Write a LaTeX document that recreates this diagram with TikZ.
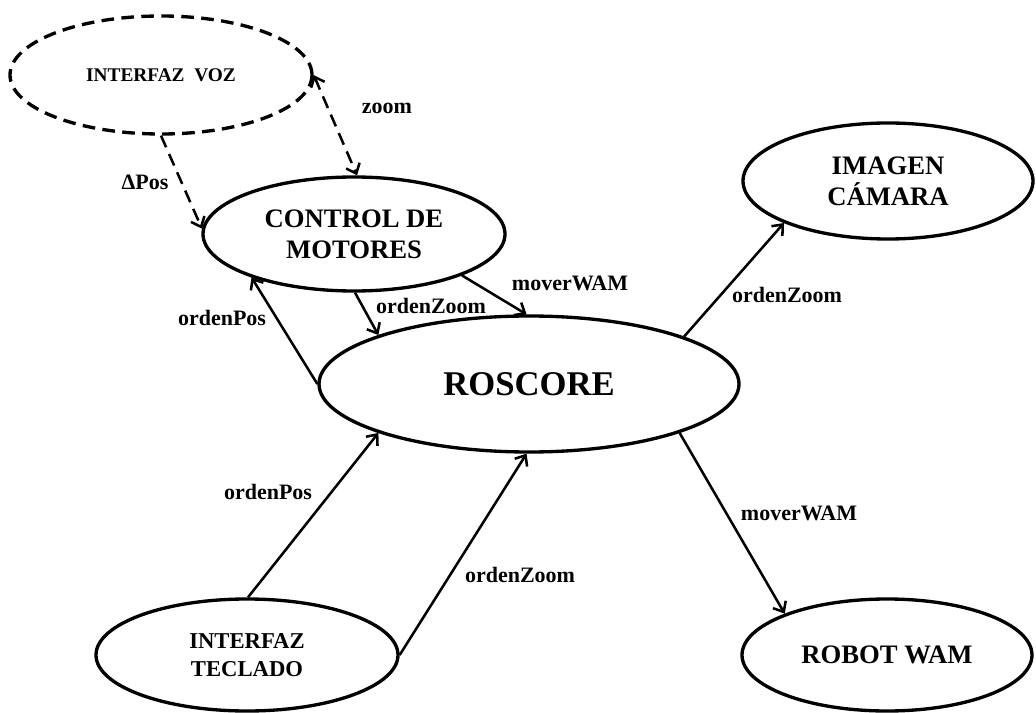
\documentclass[tikz,border=0pt]{standalone}
\usepackage{fontspec}
\setmainfont{Liberation Serif}
\usetikzlibrary{shapes.geometric,arrows.meta}

\begin{document}
\begin{tikzpicture}[x=.75pt,y=-.75pt,line width=1.9pt,font=\bfseries,
  >={Straight Barb[length=6.5pt,width=11pt]},
  elip/.style={draw,ellipse,line width=2.5pt,inner sep=0pt,align=center},
  disc/.style={dash pattern=on 9.5pt off 5.5pt},
  etq/.style={inner sep=0pt,font=\bfseries\fontsize{16.5}{18}\selectfont}]
\useasboundingbox (0,0) rectangle (1036,713);
\node[elip,disc,minimum width=226.5pt,minimum height=88.5pt,font=\bfseries\fontsize{14.5}{17}\selectfont] (voz) at (161,75) {INTERFAZ\ \ VOZ};
\node[elip,minimum width=226.5pt,minimum height=85.5pt,font=\bfseries\fontsize{20}{23.3}\selectfont] (ctl) at (354,234) {CONTROL DE\\MOTORES};
\node[elip,minimum width=315pt,minimum height=102pt,font=\bfseries\fontsize{26}{30}\selectfont] (ros) at (529,384) {ROSCORE};
\node[elip,minimum width=217.5pt,minimum height=87pt,font=\bfseries\fontsize{20}{23.3}\selectfont] (cam) at (888,181) {IMAGEN\\CÁMARA};
\node[elip,minimum width=217.5pt,minimum height=84pt,font=\bfseries\fontsize{20}{23.3}\selectfont] (wam) at (887,655) {ROBOT WAM};
\node[elip,minimum width=226.5pt,minimum height=84pt,font=\bfseries\fontsize{17}{21}\selectfont] (tec) at (247,655) {INTERFAZ\\TECLADO};
% voz
\draw[->,disc] (voz.270) -- (ctl.178);\draw[<->,disc] (voz.0) -- (ctl.87);
\node[etq] (dpos) at (145,182) {ΔPos};\node[etq] (zm) at (387,108) {zoom};
% control <-> roscore
\draw[->] (ctl.271) -- (ros.162);\draw[->] (ctl.-21) -- (ros.92);\draw[->] (ros.180) -- (ctl.203);
\node[etq] (oz1) at (431,306) {ordenZoom};\node[etq] (mw1) at (570,283) {moverWAM};\node[etq] (op1) at (222,318) {ordenPos};
% salidas
\draw[->] (ros.17) -- (cam.202);\draw[->] (ros.-18) -- (wam.158);
\node[etq] (oz2) at (787,295) {ordenZoom};\node[etq] (mw2) at (799,513) {moverWAM};
% teclado
\draw[->] (tec.89) -- (ros.198);\draw[->] (tec.0) -- (ros.268);
\node[etq] (op2) at (268,492) {ordenPos};\node[etq] (oz3) at (520,575) {ordenZoom};
\end{tikzpicture}
\end{document}
